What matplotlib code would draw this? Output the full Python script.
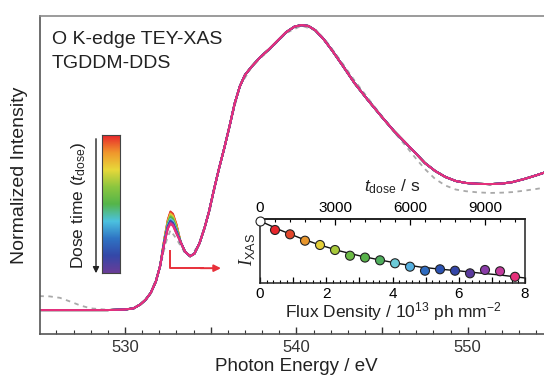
import matplotlib
matplotlib.use("Agg")
import matplotlib.pyplot as plt
import numpy as np
from matplotlib.colors import LinearSegmentedColormap
from matplotlib.ticker import MultipleLocator, FuncFormatter

plt.rcParams["font.family"] = ["Liberation Sans", "DejaVu Sans"]
plt.rcParams["mathtext.fontset"] = "custom"
plt.rcParams["mathtext.rm"] = "Liberation Sans"
plt.rcParams["mathtext.it"] = "Liberation Sans:italic"
plt.rcParams["mathtext.cal"] = "Liberation Serif:italic"

# O K-edge spectrum after the longest dose (drawn last, on top)
energy_ev = [
    525.0, 526.0, 527.0, 528.0, 529.0, 530.0, 530.5, 530.9, 531.2, 531.5,
    531.8, 532.05, 532.3, 532.5, 532.65, 532.8, 533.0, 533.25, 533.5, 533.8,
    534.05, 534.35, 534.65, 534.9, 535.2, 535.5, 535.8, 536.1, 536.4, 536.7,
    537.0, 537.4, 537.9, 538.4, 538.9, 539.4, 539.9, 540.3, 540.7, 541.1,
    541.6, 542.1, 542.7, 543.4, 544.2, 545.0, 545.7, 546.4, 547.0, 547.5,
    548.1, 548.7, 549.3, 549.9, 550.6, 551.3, 552.0, 552.6, 553.3, 554.0,
    554.6, 555.5,
]
intensity_final = [
    0.000, 0.000, 0.000, 0.000, 0.000, 0.002, 0.006, 0.020, 0.036, 0.060,
    0.100, 0.155, 0.235, 0.285, 0.302, 0.295, 0.268, 0.238, 0.205, 0.189,
    0.198, 0.235, 0.290, 0.345, 0.425, 0.500, 0.570, 0.645, 0.725, 0.785,
    0.825, 0.855, 0.888, 0.915, 0.945, 0.975, 0.995, 1.000, 0.997, 0.982,
    0.950, 0.910, 0.858, 0.796, 0.735, 0.677, 0.628, 0.585, 0.548, 0.516,
    0.488, 0.467, 0.453, 0.446, 0.443, 0.442, 0.444, 0.449, 0.460, 0.473,
    0.485, 0.500,
]

# pi* peak region for each dose step (red = first, pink = last)
pi_energy = [532.3, 532.5, 532.65, 532.8, 533.0]
pi_rows = [
    [0.252, 0.318, 0.346, 0.338, 0.302],
    [0.251, 0.316, 0.343, 0.335, 0.300],
    [0.250, 0.313, 0.339, 0.331, 0.297],
    [0.249, 0.310, 0.336, 0.328, 0.294],
    [0.247, 0.307, 0.332, 0.324, 0.291],
    [0.246, 0.304, 0.328, 0.320, 0.288],
    [0.245, 0.302, 0.326, 0.318, 0.286],
    [0.244, 0.300, 0.323, 0.315, 0.284],
    [0.243, 0.298, 0.320, 0.312, 0.281],
    [0.242, 0.296, 0.317, 0.309, 0.279],
    [0.241, 0.294, 0.314, 0.306, 0.277],
    [0.240, 0.293, 0.312, 0.305, 0.276],
    [0.240, 0.292, 0.311, 0.304, 0.275],
    [0.239, 0.290, 0.309, 0.302, 0.274],
    [0.238, 0.289, 0.307, 0.300, 0.272],
    [0.237, 0.288, 0.305, 0.298, 0.270],
    [0.235, 0.285, 0.302, 0.295, 0.268],
]
dose_colors = [
    "#e8262c", "#e2472c", "#e8962c", "#e4cf38", "#a8c93a", "#6cbb45",
    "#58b34a", "#4fae5c", "#6ccbd8", "#55b0e0", "#2f6cc0", "#2a52b2",
    "#3446a8", "#5a3a9e", "#8a3ca8", "#c23a9c", "#e6307a",
]

# reference spectrum (grey dashed)
ref_energy = [
    525.0, 525.6, 526.2, 526.8, 527.4, 528.0, 529.0, 530.0, 530.5, 531.0,
    531.5, 532.0, 532.4, 532.65, 533.0, 533.5, 533.8, 534.35, 534.95, 535.5,
    536.1, 536.7, 537.4, 538.4, 539.4, 540.3, 541.1, 541.6, 542.1, 542.7,
    543.4, 544.2, 545.0, 545.7, 546.4, 547.0, 547.5, 548.1, 548.7, 549.3,
    549.9, 550.6, 551.3, 552.0, 552.6, 553.3, 554.0, 555.5,
]
ref_intensity = [
    0.049, 0.048, 0.043, 0.030, 0.016, 0.006, 0.001, 0.002, 0.006, 0.024,
    0.060, 0.140, 0.240, 0.280, 0.250, 0.200, 0.188, 0.232, 0.350, 0.500,
    0.645, 0.785, 0.855, 0.912, 0.972, 0.998, 0.982, 0.955, 0.915, 0.865,
    0.805, 0.742, 0.680, 0.625, 0.575, 0.530, 0.495, 0.460, 0.437, 0.423,
    0.417, 0.413, 0.411, 0.412, 0.414, 0.419, 0.425, 0.440,
]

# inset: O K-edge intensity vs dose
dose_time_s = [0, 600, 1200, 1800, 2400, 3000, 3600, 4200, 4800,
               5400, 6000, 6600, 7200, 7800, 8400, 9000, 9600, 10200]
i_xas = [1.000, 0.855, 0.785, 0.682, 0.613, 0.532, 0.440, 0.410, 0.366,
         0.318, 0.263, 0.198, 0.221, 0.198, 0.156, 0.210, 0.189, 0.100]
fit_time_s = [0, 800, 1600, 2400, 3200, 4000, 4800, 5600, 6400, 7200,
              8000, 8800, 9600, 10600]
fit_i_xas = [1.000, 0.855, 0.726, 0.612, 0.516, 0.437, 0.371, 0.310,
             0.258, 0.223, 0.194, 0.160, 0.129, 0.081]
SECONDS_PER_FLUX = 1325.0  # s per 1e13 ph mm^-2

W, H = 544, 378
fig = plt.figure(figsize=(W / 100, H / 100), dpi=100)

ax = fig.add_axes([40 / W, 44 / H, 522 / W, 318 / H])
ax.plot(ref_energy, ref_intensity, color="#a9a9a9", lw=1.3,
        dashes=(2.5, 2.5), zorder=1)

energy = np.array(energy_ev)
pi_idx = [energy_ev.index(e) for e in pi_energy]
for row, color in zip(pi_rows, dose_colors):
    spec = np.array(intensity_final, dtype=float)
    spec[pi_idx] = row
    ax.plot(energy, spec, color=color, lw=1.4, solid_capstyle="round", zorder=2)

ax.set_xlim(525.04, 555.5)
ax.set_ylim(-0.084, 1.032)
ax.xaxis.set_major_locator(MultipleLocator(5))
ax.xaxis.set_minor_locator(MultipleLocator(1))
ax.xaxis.set_major_formatter(FuncFormatter(lambda v, p: f"{v:.0f}" if v % 10 == 0 else ""))
ax.tick_params(axis="x", which="major", direction="in", length=5, width=1,
               labelsize=12, pad=4.5, colors="#333333")
ax.tick_params(axis="x", which="minor", direction="in", length=3, width=0.8,
               colors="#333333")
ax.set_yticks([])
for side in ["left", "bottom", "top"]:
    ax.spines[side].set_color("#555555")
    ax.spines[side].set_linewidth(1.2)
ax.spines["top"].set_color("#8a8a8a")
ax.set_xlabel("Photon Energy / eV", fontsize=13.5, color="#222222")
ax.xaxis.set_label_coords((296 - 40) / 522, (334 - 358) / 318)
ax.set_ylabel("Normalized Intensity", fontsize=14, color="#222222")
ax.yaxis.set_label_coords((28 - 40) / 522, (334 - 175) / 318)

ax.text(52 / W, (H - 40) / H, "O K-edge TEY-XAS", transform=fig.transFigure,
        fontsize=14, va="center", color="#222222")
ax.text(52 / W, (H - 63) / H, "TGDDM-DDS", transform=fig.transFigure,
        fontsize=14, va="center", color="#222222")

# red marker pointing from the pi* peak to the inset
ax.plot([532.62, 532.62, 534.6], [0.21, 0.147, 0.147], color="#e8303a", lw=1.4,
        solid_capstyle="butt", zorder=3)
ax.annotate("", xy=(535.6, 0.147), xytext=(534.4, 0.147),
            arrowprops=dict(arrowstyle="-|>", color="#e8303a", lw=1.4,
                            mutation_scale=10, shrinkA=0, shrinkB=0))

# dose time colour bar
cbar_cmap = LinearSegmentedColormap.from_list(
    "dose", ["#6a3d98", "#3448a8", "#2f74c4", "#4cc2e0", "#55b54a",
             "#8cc63f", "#e8d83a", "#f0962c", "#e8262c"])
cax = fig.add_axes([102 / W, (H - 273) / H, 18 / W, 138 / H])
cax.imshow(np.linspace(0, 1, 256)[:, None], aspect="auto", origin="lower",
           cmap=cbar_cmap)
cax.set_xticks([])
cax.set_yticks([])
for s in cax.spines.values():
    s.set_color("#444444")
    s.set_linewidth(0.8)
fig.patches.append(matplotlib.patches.FancyArrowPatch(
    (96 / W, (H - 136) / H), (96 / W, (H - 276) / H),
    transform=fig.transFigure, arrowstyle="-|>", mutation_scale=9,
    color="#222222", lw=1.0))
fig.text(78 / W, (H - 205) / H, r"Dose time ($t_{\mathrm{dose}}$)",
         rotation=90, fontsize=12.5, ha="center", va="center", color="#222222")

# inset
ins = fig.add_axes([260 / W, (H - 283) / H, 265 / W, 64 / H])
ins.set_facecolor("white")
flux = [t / SECONDS_PER_FLUX for t in dose_time_s]
fit_flux = [t / SECONDS_PER_FLUX for t in fit_time_s]
ins.plot(fit_flux, fit_i_xas, color="#111111", lw=1.0, zorder=2)
ins.scatter(flux[1:], i_xas[1:], s=42, c=dose_colors, edgecolors="#222222",
            linewidths=0.8, zorder=3, clip_on=False)
ins.scatter(flux[:1], i_xas[:1], s=42, c="white", edgecolors="#222222",
            linewidths=0.8, zorder=3, clip_on=False)
ins.set_xlim(0, 8)
ins.set_ylim(0, 1.032)
ins.set_yticks([])
ins.xaxis.set_major_locator(MultipleLocator(1))
ins.xaxis.set_minor_locator(MultipleLocator(0.2))
ins.xaxis.set_major_formatter(FuncFormatter(lambda v, p: f"{v:.0f}" if v % 2 == 0 else ""))
ins.tick_params(axis="x", which="major", direction="in", length=4, width=0.9,
                labelsize=11, pad=3)
ins.tick_params(axis="x", which="minor", direction="in", length=2, width=0.8)
for s in ins.spines.values():
    s.set_linewidth(1.1)
    s.set_color("#222222")

top = ins.secondary_xaxis("top", functions=(lambda f: f * SECONDS_PER_FLUX,
                                            lambda t: t / SECONDS_PER_FLUX))
top.set_xticks([0, 3000, 6000, 9000])
top.xaxis.set_minor_locator(MultipleLocator(600))
top.tick_params(axis="x", which="major", direction="in", length=4, width=0.9,
                labelsize=11, pad=3)
top.tick_params(axis="x", which="minor", direction="in", length=2, width=0.8)
top.spines["top"].set_linewidth(1.1)

fig.text(393 / W, (H - 312) / H, r"Flux Density / 10$^{13}$ ph mm$^{-2}$",
         fontsize=12.5, ha="center", va="center", color="#222222")
fig.text(392 / W, (H - 187) / H, r"$t_{\mathrm{dose}}$ / s",
         fontsize=12.5, ha="center", va="center", color="#222222")
fig.text(247 / W, (H - 250) / H, r"$\mathcal{I}_{\mathrm{XAS}}$", rotation=90,
         fontsize=13, ha="center", va="center", color="#222222")

fig.savefig("out.png", dpi=100)
